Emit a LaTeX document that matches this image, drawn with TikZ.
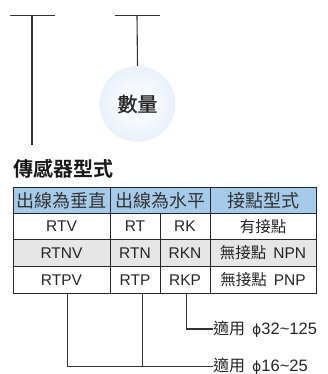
\documentclass[tikz,border=0pt]{standalone}
\usepackage{fontspec}
\setmainfont{Liberation Sans}
\newfontfamily\cjk{Noto Sans CJK TC}
\newfontfamily\cjkm{Noto Sans CJK TC}[FakeBold=0.8]
\newfontfamily\cjkb{Noto Sans CJK TC}[BoldFont={* Bold}]
\newfontfamily\symf{DejaVu Sans}
\definecolor{lineg}{HTML}{333333}
\definecolor{headblue}{HTML}{A6CBEA}
\definecolor{rowgray}{HTML}{E6E6E6}
\definecolor{ballout}{HTML}{CFE0F3}
\definecolor{ballin}{HTML}{F6F9FD}
\pgfdeclareradialshading{ballshade}{\pgfpoint{0bp}{0bp}}{color(0bp)=(ballin); color(12bp)=(ballin); color(50bp)=(ballout); color(60bp)=(ballout)}
\tikzset{
  conn/.style={draw=lineg, line width=1.1pt},
  grid/.style={draw=black!85, line width=0.8pt},
  head/.style={font=\cjk\fontsize{18}{18}\selectfont, text=black!80, inner sep=0pt},
  cell/.style={font=\fontsize{15.5}{16}\selectfont, text=black!85, inner sep=0pt},
  ccell/.style={font=\cjk\fontsize{15.5}{16}\selectfont, text=black!85, inner sep=0pt},
  note/.style={font=\cjk\fontsize{16}{16}\selectfont, text=black!85, inner sep=0pt, anchor=west},
}
\newcommand{\lat}[1]{{\fontspec{Liberation Sans}\fontsize{16.5}{17}\selectfont #1}}
\begin{document}
\begin{tikzpicture}[x=1pt,y=-1pt]
\useasboundingbox (0,0) rectangle (328,374);
% top T marks
\coordinate (t1l) at (10,15.5); \coordinate (t1r) at (55,15.5);
\coordinate (t1) at (32,15.5); \coordinate (t1b) at (32,145);
\coordinate (t2l) at (115,15.5); \coordinate (t2r) at (160,15.5);
\coordinate (t2) at (137,15.5);
\draw[conn] (t1l) -- (t1r);
\draw[conn] (t1) -- (t1b);
\draw[conn] (t2l) -- (t2r);
\node[circle, minimum size=76pt, inner sep=0pt, shading=ballshade,
      font=\cjkm\fontsize{20}{20}\selectfont, text=black!85] (qty) at (137.5,104) {數量};
\draw[conn] (t2) -- (qty.north);
% title
\node[anchor=west, inner sep=0pt, font=\cjkb\bfseries\fontsize{20}{20}\selectfont, text=black!90] (title) at (13,169) {傳感器型式};
% table fills
\fill[headblue] (13,187) rectangle (316,213);
\fill[rowgray] (13,239) rectangle (316,266);
% grid
\draw[grid] (13,187) rectangle (316,293);
\draw[grid] (13,213) -- (316,213);
\draw[grid] (13,239) -- (316,239);
\draw[grid] (13,266) -- (316,266);
\draw[grid] (110,187) -- (110,293);
\draw[grid] (160,213) -- (160,293);
\draw[grid] (210,187) -- (210,293);
% header
\node[head] (h1) at (61.5,200.5) {出線為垂直};
\node[head] (h2) at (160,200.5) {出線為水平};
\node[head] (h3) at (263,200.5) {接點型式};
% rows
\node[cell] (a1) at (61.5,226.5) {RTV};
\node[cell] (b1) at (135,226.5) {RT};
\node[cell] (c1) at (185,226.5) {RK};
\node[ccell] (d1) at (263,226.5) {有接點};
\node[cell] (a2) at (61.5,253) {RTNV};
\node[cell] (b2) at (135,253) {RTN};
\node[cell] (c2) at (185,253) {RKN};
\node[ccell] (d2) at (263,253) {無接點\ \ \fontspec{Liberation Sans}NPN};
\node[cell] (a3) at (61.5,280) {RTPV};
\node[cell] (b3) at (135,280) {RTP};
\node[cell] (c3) at (185,280) {RKP};
\node[ccell] (d3) at (263,280) {無接點\ \ \fontspec{Liberation Sans}PNP};
% bottom connectors
\coordinate (pa) at (67.5,293);
\coordinate (pb) at (142.5,293);
\coordinate (pc) at (186.5,293);
\node[note] (n1) at (213,329) {適用\hspace{7pt}{\symf\fontsize{14}{14}\selectfont ϕ}\lat{32\textasciitilde125}};
\node[note] (n2) at (213,366.5) {適用\hspace{7pt}{\symf\fontsize{14}{14}\selectfont ϕ}\lat{16\textasciitilde25}};
\draw[conn] (pc) |- (n1.west);
\draw[conn] (pa) |- (n2.west);
\draw[conn] (pb) -- (pb |- n2.west);
\end{tikzpicture}
\end{document}
